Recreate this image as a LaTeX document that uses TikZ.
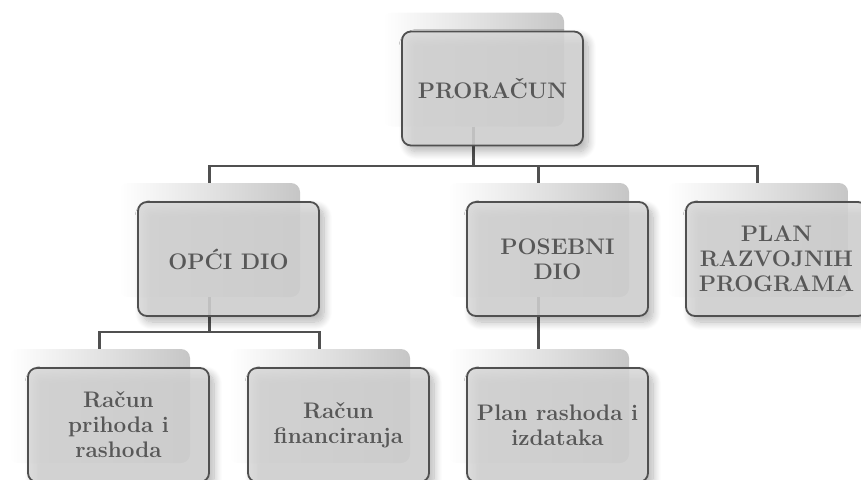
\documentclass[tikz,border=0pt]{standalone}
\usepackage{fontspec}
\usetikzlibrary{shadows.blur}
\definecolor{txtgray}{RGB}{88,88,88}
\definecolor{linegray}{RGB}{80,80,80}
\definecolor{frontfill}{RGB}{216,216,216}
\definecolor{backgray}{RGB}{198,198,198}
\tikzset{
  backbox/.style={rounded corners=9pt, minimum width=181pt, minimum height=114pt,
    inner sep=0pt, left color=white, right color=backgray, draw=none},
  frontbox/.style={rounded corners=9pt, minimum width=181pt, minimum height=114pt,
    inner sep=2pt, fill=frontfill, fill opacity=0.85, text opacity=1,
    draw=linegray, line width=1.8pt, text=txtgray, align=center,
    font=\fontsize{22.5}{25}\selectfont\bfseries,
    blur shadow={shadow xshift=5pt, shadow yshift=-6pt, shadow blur steps=12, shadow blur radius=8pt, shadow opacity=35}},
  conn/.style={draw=linegray, line width=2.1pt}
}
\begin{document}
\begin{tikzpicture}[x=1pt,y=-1pt]
\useasboundingbox (0,0) rectangle (861,479);
\clip (0,0) rectangle (861,479);
% back boxes
\node[backbox] (b0) at (473.5,69.5) {};
\node[backbox] (b1) at (209.5,240) {};
\node[backbox] (b2) at (538.5,240) {};
\node[backbox] (b3) at (757.5,240) {};
\node[backbox] (b4) at (99.5,406) {};
\node[backbox] (b5) at (319.5,406) {};
\node[backbox] (b6) at (538.5,406) {};
% connectors
\coordinate (h0) at (473.5,166);
\coordinate (h1) at (209.5,332);
\draw[conn] (b0.south) -- (h0);
\draw[conn] (b1.north) |- (h0) -| (b3.north);
\draw[conn] (b2.north) -- (b2.north |- h0);
\draw[conn] (b1.south) -- (h1);
\draw[conn] (b4.north) |- (h1) -| (b5.north);
\draw[conn] (b2.south) -- (b6.north);
% front boxes
\node[frontbox] (f0) at (492.5,88.5) {PRORAČUN};
\node[frontbox] (f1) at (228.5,259) {OPĆI DIO};
\node[frontbox] (f2) at (557.5,259) {POSEBNI\\DIO};
\node[frontbox] (f3) at (776.5,259) {PLAN\\RAZVOJNIH\\PROGRAMA};
\node[frontbox] (f4) at (118.5,425) {Račun\\prihoda i\\rashoda};
\node[frontbox] (f5) at (338.5,425) {Račun\\financiranja};
\node[frontbox] (f6) at (557.5,425) {Plan rashoda i\\izdataka};
\end{tikzpicture}
\end{document}
